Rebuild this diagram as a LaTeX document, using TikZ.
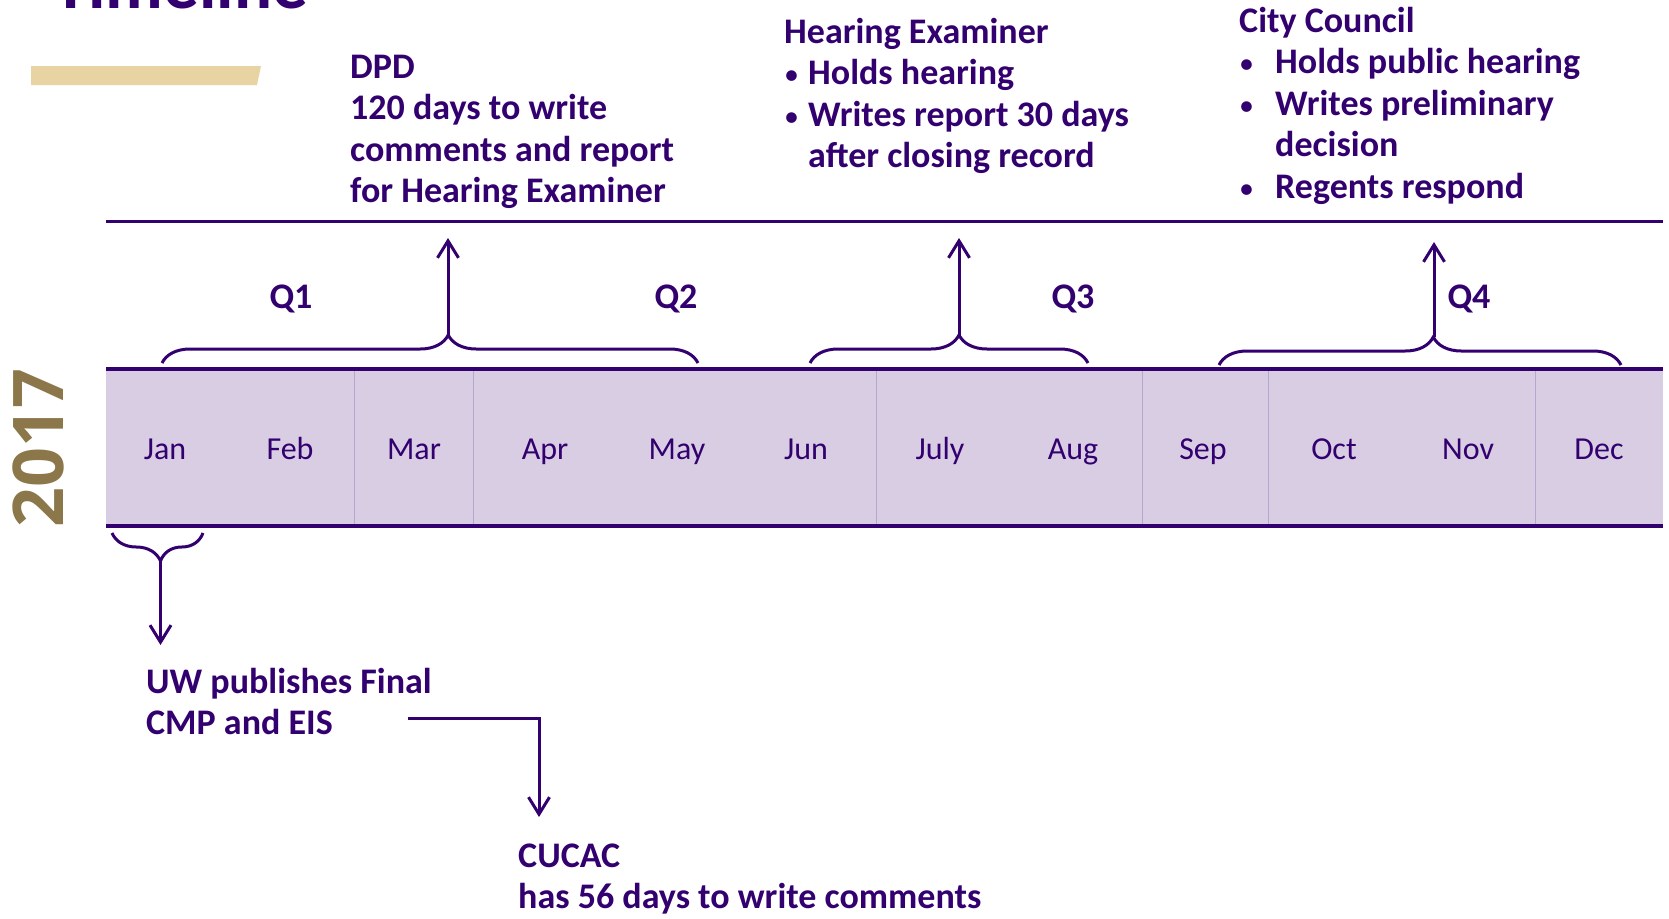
\documentclass[tikz,border=0pt]{standalone}
\usepackage{fontspec}
\setmainfont{Carlito}
\newfontfamily\yearfont{Open Sans}
\usetikzlibrary{arrows.meta,decorations.pathreplacing}

\definecolor{uwpurple}{HTML}{33006F}
\definecolor{bandfill}{HTML}{D8CDE3}
\definecolor{bandrule}{HTML}{B4A7D0}
\definecolor{bargold}{HTML}{E8D3A2}
\definecolor{yeargold}{HTML}{8C774B}

\newcommand{\notebul}{{\mdseries\fontsize{30}{30}\selectfont\textbullet}}

\tikzset{
  month/.style={anchor=base, text=uwpurple, font=\fontsize{32}{38}\selectfont},
  qlabel/.style={anchor=base, text=uwpurple, font=\bfseries\fontsize{36}{43}\selectfont},
  note/.style={anchor=base west, align=left, inner sep=0pt, text=uwpurple,
    font=\bfseries\fontsize{36}{41.5}\selectfont},
  rule/.style={uwpurple, line width=3pt},
  brc/.style={uwpurple, line width=3pt, decorate,
    decoration={brace, amplitude=28pt, aspect=#1}},
  arr/.style={uwpurple, line width=3pt, -{Straight Barb[length=17pt,width=21pt]}},
}

\begin{document}
\begin{tikzpicture}[x=1pt, y=-1pt]
  \useasboundingbox (0,0) rectangle (1669,918);
  \clip (0,0) rectangle (1669,918);

  % title and year
  \node[anchor=base west, inner sep=0pt, text=uwpurple,
    font=\bfseries\fontsize{71}{80}\selectfont] (title) at (53,9) {Timeline};
  \fill[bargold] (31,66) -- (261,66) -- (257,85) -- (31,85) -- cycle;
  \node[rotate=90, text=yeargold, font=\yearfont\bfseries\fontsize{70}{80}\selectfont]
    (year) at (38,448) {2017};

  % band with months
  \fill[bandfill] (106,369) rectangle (1663,526);
  \draw[bandrule, line width=1pt] (354.5,369) -- (354.5,526);
  \draw[bandrule, line width=1pt] (473,369) -- (473,526);
  \draw[bandrule, line width=1pt] (876,369) -- (876,526);
  \draw[bandrule, line width=1pt] (1142,369) -- (1142,526);
  \draw[bandrule, line width=1pt] (1268,369) -- (1268,526);
  \draw[bandrule, line width=1pt] (1535,369) -- (1535,526);
  \draw[rule] (106,221.5) -- (1663,221.5);
  \draw[rule, line width=3.5pt] (106,369) -- (1663,369);
  \draw[rule, line width=3.5pt] (106,526) -- (1663,526);

  \node[month] (jan) at (165,459) {Jan};
  \node[month] (feb) at (290,459) {Feb};
  \node[month] (mar) at (414,459) {Mar};
  \node[month] (apr) at (545,459) {Apr};
  \node[month] (may) at (677,459) {May};
  \node[month] (jun) at (806,459) {Jun};
  \node[month] (jul) at (940,459) {July};
  \node[month] (aug) at (1073,459) {Aug};
  \node[month] (sep) at (1203,459) {Sep};
  \node[month] (oct) at (1334,459) {Oct};
  \node[month] (nov) at (1468,459) {Nov};
  \node[month] (dec) at (1599,459) {Dec};

  \node[qlabel] (q1) at (291,308) {Q1};
  \node[qlabel] (q2) at (676,308) {Q2};
  \node[qlabel] (q3) at (1073,308) {Q3};
  \node[qlabel] (q4) at (1469,308) {Q4};

  % braces and arrows
  \coordinate (b1l) at (162,363);
  \coordinate (b1r) at (698,363);
  \coordinate (b1tip) at (448,335);
  \coordinate (b1top) at (448,238);
  \draw[brc=0.534] (b1l) -- (b1r);
  \draw[arr] (b1tip) -- (b1top);

  \coordinate (b2l) at (810,363);
  \coordinate (b2r) at (1088,363);
  \coordinate (b2tip) at (959,335);
  \coordinate (b2top) at (959,238);
  \draw[brc=0.536] (b2l) -- (b2r);
  \draw[arr] (b2tip) -- (b2top);

  \coordinate (b3l) at (1219,365);
  \coordinate (b3r) at (1621,365);
  \coordinate (b3tip) at (1434,337);
  \coordinate (b3top) at (1434,242);
  \draw[brc=0.533] (b3l) -- (b3r);
  \draw[arr] (b3tip) -- (b3top);

  \coordinate (b4r) at (203,533);
  \coordinate (b4l) at (112,533);
  \coordinate (b4tip) at (160.5,558);
  \coordinate (b4bot) at (160.5,645);
  \draw[brc=0.467] (b4r) -- (b4l);
  \draw[arr] (b4tip) -- (b4bot);

  % notes (anchored at the baseline of their last line)
  \node[note] (dpd) at (350,202.5) {DPD\\120 days to write\\comments and report\\for Hearing Examiner};
  \node[note] (hear) at (784,167.5) {Hearing Examiner\\
    \makebox[24pt][l]{\notebul}Holds hearing\\
    \makebox[24pt][l]{\notebul}Writes report 30 days\\
    \hspace*{24pt}after closing record};
  \node[note] (council) at (1239,198) {City Council\\
    \makebox[36pt][l]{\notebul}Holds public hearing\\
    \makebox[36pt][l]{\notebul}Writes preliminary\\
    \hspace*{36pt}decision\\
    \makebox[36pt][l]{\notebul}Regents respond};

  \node[note] (uw) at (146,734.5) {UW publishes Final\\CMP and EIS};
  \node[note] (cucac) at (518,908.5) {CUCAC\\has 56 days to write comments};
  \coordinate (elb1) at (408,718);
  \coordinate (elb2) at (539,817);
  \draw[arr] (elb1) -| (elb2);
\end{tikzpicture}
\end{document}
